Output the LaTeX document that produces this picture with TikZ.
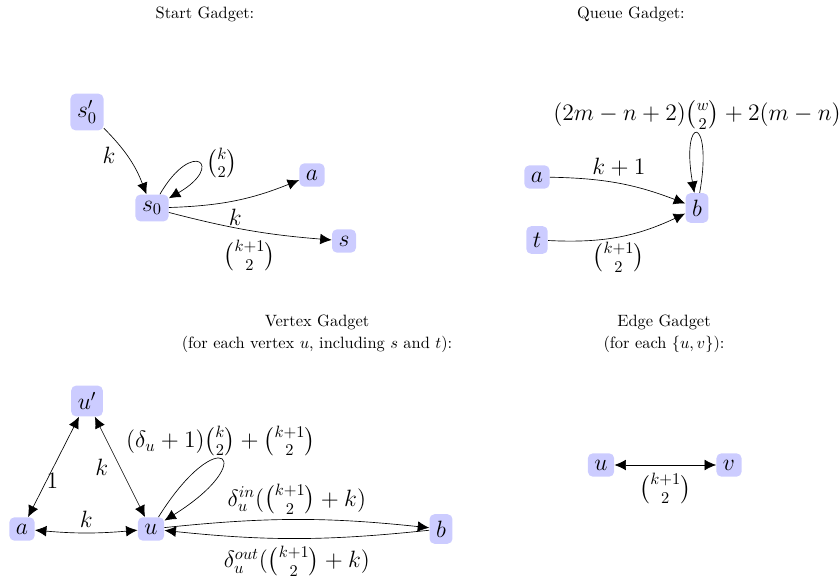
\documentclass[tikz,border=0pt]{standalone}
\usepackage{amsmath}
\usetikzlibrary{arrows.meta}
\begin{document}
\begin{tikzpicture}[x=0.61pt,y=0.61pt,
  vtx/.style={fill=blue!20, rounded corners=3pt, inner sep=4pt, font=\Large},
  lbl/.style={font=\Large, inner sep=3pt},
  arr/.style={-{Latex[length=7pt,width=6.5pt]}},
  barr/.style={{Latex[length=7pt,width=6.5pt]}-{Latex[length=7pt,width=6.5pt]}},
  title/.style={anchor=base, inner sep=0pt}]
\useasboundingbox (0,0) rectangle (839,-579);
% titles
\node[title] (t1) at (205,-19) {Start Gadget:};
\node[title] (t2) at (631,-19) {Queue Gadget:};
\node[title] (t3a) at (317,-326) {Vertex Gadget};
\node[title] (t3b) at (317,-348) {(for each vertex $u$, including $s$ and $t$):};
\node[title] (t4a) at (664,-326) {Edge Gadget};
\node[title] (t4b) at (664,-348) {(for each $\{u,v\}$):};
% start gadget
\node[vtx] (sp) at (87,-112) {$s_0'$};
\node[vtx] (s0) at (152,-208) {$s_0$};
\node[vtx] (a1) at (312,-175) {$a$};
\node[vtx] (s) at (344,-241) {$s$};
\draw[arr] (sp) to[bend left=12] node[lbl, pos=0.45, left=4pt] {$k$} (s0);
\draw[arr] (s0) to[out=60, in=30, distance=40pt] node[lbl, pos=0.5, right=2pt] {$\binom{k}{2}$} (s0);
\draw[arr] (s0) to[bend right=10] node[lbl, below=2pt] {$k$} (a1);
\draw[arr] (s0) to[bend right=5] node[lbl, below=3pt] {$\binom{k+1}{2}$} (s);
% queue gadget
\node[vtx] (qa) at (537,-177) {$a$};
\node[vtx] (qt) at (537,-240) {$t$};
\node[vtx] (qb) at (697,-208) {$b$};
\draw[arr] (qa) to[bend left=10] node[lbl, above=1pt] {$k+1$} (qb);
\draw[arr] (qt) to[bend right=14] node[lbl, below=0pt] {$\binom{k+1}{2}$} (qb);
\draw[arr] (qb) to[out=80, in=100, distance=49pt] node[lbl, pos=0.5, above=-0.5pt] {$(2m-n+2)\binom{w}{2}+2(m-n)$} (qb);
% vertex gadget
\node[vtx] (up) at (87,-401) {$u'$};
\node[vtx] (va) at (22,-529) {$a$};
\node[vtx] (vu) at (151,-529) {$u$};
\node[vtx] (vb) at (441,-529) {$b$};
\draw[barr] (up) -- node[lbl, pos=0.64, right, inner sep=0pt] {$1$} (va);
\draw[barr] (up) -- node[lbl, pos=0.5, left=4pt] {$k$} (vu);
\draw[barr] (va) to[bend right=5] node[lbl, above=0pt] {$k$} (vu);
\draw[arr] (vu) to[out=58, in=32, distance=70pt] node[lbl, pos=0.5, above=-1pt] {$(\delta_u+1)\binom{k}{2}+\binom{k+1}{2}$} (vu);
\draw[arr] (vu) to[bend left=6] node[lbl, above=0pt] {$\delta_u^{in}(\binom{k+1}{2}+k)$} (vb);
\draw[arr] (vb) to[bend left=6] node[lbl, below=1.5pt] {$\delta_u^{out}(\binom{k+1}{2}+k)$} (vu);
% edge gadget
\node[vtx] (eu) at (601,-465) {$u$};
\node[vtx] (ev) at (729,-465) {$v$};
\draw[barr] (eu) -- node[lbl, below=2pt] {$\binom{k+1}{2}$} (ev);
\end{tikzpicture}
\end{document}
